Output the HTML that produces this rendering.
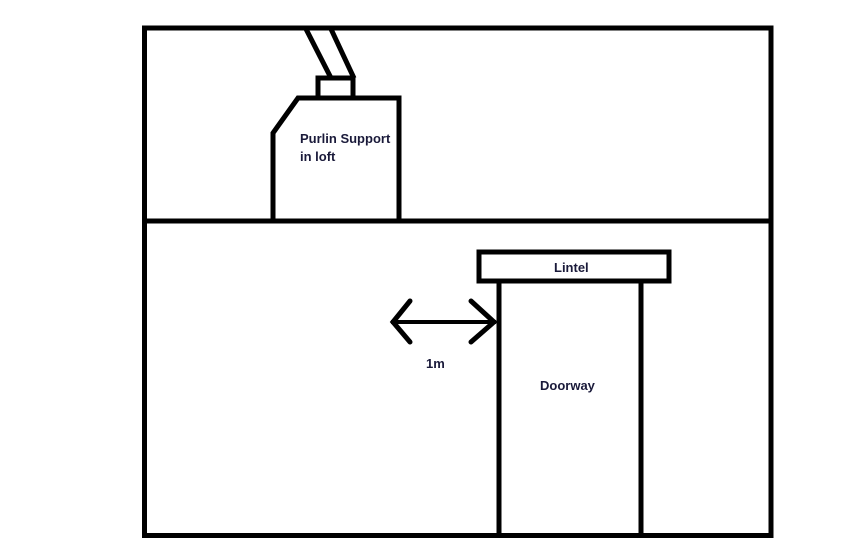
<!DOCTYPE html>
<html><head><style>html,body{margin:0;padding:0;background:#fff}svg{display:block}</style></head><body>
<svg width="856" height="554" viewBox="0 0 856 554" xmlns="http://www.w3.org/2000/svg">
<rect width="856" height="554" fill="#fff"/>
<g fill="none" stroke="#000" stroke-width="5" stroke-linecap="square" stroke-linejoin="miter">
<rect x="144.5" y="28" width="626.5" height="507.5"/>
<line x1="144.5" y1="221" x2="771" y2="221"/>
<polyline points="273,221 273,133 298,98 399,98 399,221"/>
<rect x="318" y="78" width="35" height="20"/>
<line x1="306" y1="29" x2="330" y2="76"/>
<line x1="331" y1="29" x2="353" y2="76"/>
<rect x="479" y="252" width="190" height="29"/>
<polyline points="499,535 499,281 641,281 641,535"/>
<line x1="393" y1="322" x2="494" y2="322" stroke-width="4"/>
<polyline points="410,301 393,322 410,342" stroke-width="5" stroke-linecap="round"/>
<polyline points="471,301 494,322 471,342" stroke-width="5" stroke-linecap="round"/>
</g>
<g font-family="Liberation Sans, sans-serif" font-weight="bold" font-size="13" fill="#1a1a3a">
<text x="300" y="143">Purlin Support</text>
<text x="300" y="161">in loft</text>
<text x="554" y="272">Lintel</text>
<text x="426" y="368">1m</text>
<text x="540" y="390">Doorway</text>
</g>
</svg>
</body></html>
